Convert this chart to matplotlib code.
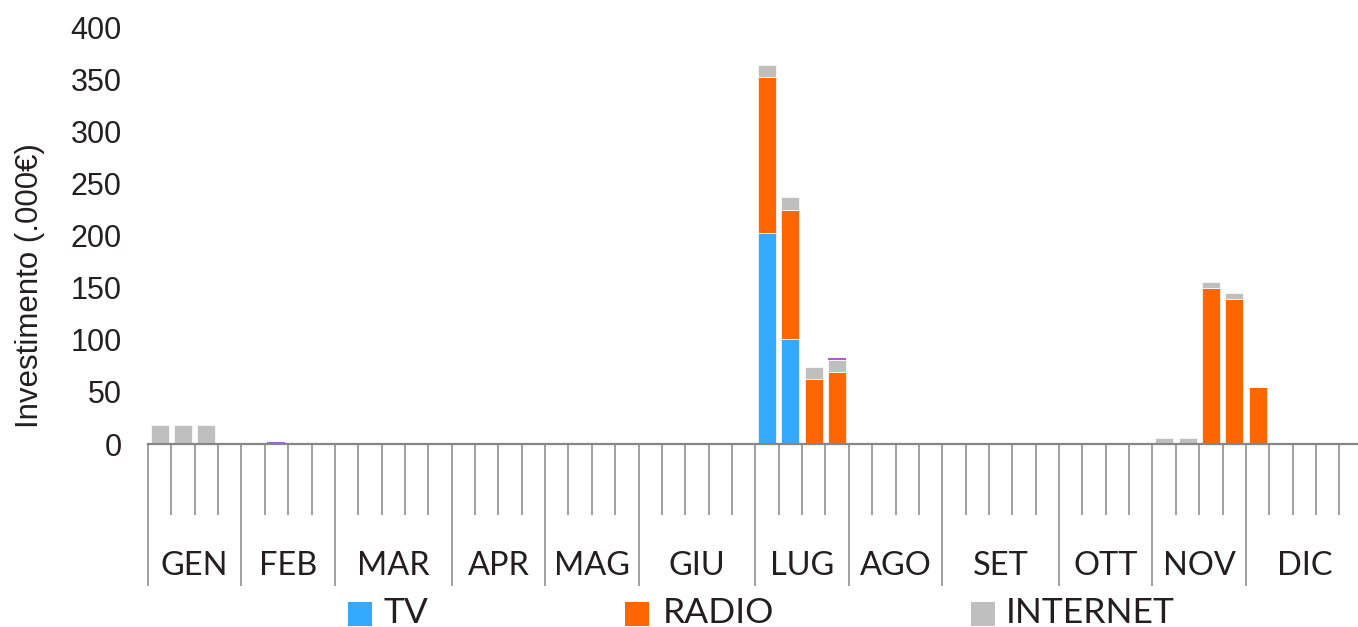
import matplotlib
matplotlib.use("Agg")
import matplotlib.pyplot as plt
import numpy as np
from matplotlib.patches import Rectangle
from matplotlib.transforms import blended_transform_factory

# Months and the number of weekly slots in each
months = ["GEN", "FEB", "MAR", "APR", "MAG", "GIU",
          "LUG", "AGO", "SET", "OTT", "NOV", "DIC"]
weeks_per_month = [4, 4, 5, 4, 4, 5, 4, 4, 5, 4, 4, 5]

# Weekly investment (.000 EUR), one row per month
tv = [
    [0, 0, 0, 0], [0, 0, 0, 0], [0, 0, 0, 0, 0], [0, 0, 0, 0],
    [0, 0, 0, 0], [0, 0, 0, 0, 0], [203, 101, 0, 0], [0, 0, 0, 0],
    [0, 0, 0, 0, 0], [0, 0, 0, 0], [0, 0, 0, 0], [0, 0, 0, 0, 0],
]
radio = [
    [0, 0, 0, 0], [0, 0, 0, 0], [0, 0, 0, 0, 0], [0, 0, 0, 0],
    [0, 0, 0, 0], [0, 0, 0, 0, 0], [149, 124, 62, 69], [0, 0, 0, 0],
    [0, 0, 0, 0, 0], [0, 0, 0, 0], [0, 0, 150, 139], [55, 0, 0, 0, 0],
]
internet = [
    [18, 18, 18, 0], [0, 0, 0, 0], [0, 0, 0, 0, 0], [0, 0, 0, 0],
    [0, 0, 0, 0], [0, 0, 0, 0, 0], [12, 12, 12, 12], [0, 0, 0, 0],
    [0, 0, 0, 0, 0], [0, 0, 0, 0], [6, 6, 6, 6], [0, 0, 0, 0, 0],
]
other = [
    [0, 0, 0, 0], [0, 1.5, 0, 0], [0, 0, 0, 0, 0], [0, 0, 0, 0],
    [0, 0, 0, 0], [0, 0, 0, 0, 0], [0, 0, 0, 1.5], [0, 0, 0, 0],
    [0, 0, 0, 0, 0], [0, 0, 0, 0], [0, 0, 0, 0], [0, 0, 0, 0, 0],
]
y_ticks = [0, 50, 100, 150, 200, 250, 300, 350, 400]

C_TV = "#33AAFF"
C_RADIO = "#FF6600"
C_INTERNET = "#BFBFBF"
C_OTHER = "#B455E0"
C_TEXT = "#231F20"
C_AXIS = "#868686"


def flat(rows):
    return np.array([v for r in rows for v in r], dtype=float)


tv_w, radio_w, net_w, oth_w = flat(tv), flat(radio), flat(internet), flat(other)
n_weeks = len(tv_w)
x = np.arange(n_weeks) + 0.5
bounds = np.concatenate([[0], np.cumsum(weeks_per_month)])

W, H = 1358, 627
fig = plt.figure(figsize=(W / 100, H / 100), dpi=100)
ax = fig.add_axes([148 / W, (H - 444) / H, n_weeks * 23.36 / W, 416.5 / H])

bw = 0.77
kw = dict(width=bw, edgecolor="white", linewidth=0.5)
ax.bar(x, tv_w, color=C_TV, **kw)
ax.bar(x, radio_w, bottom=tv_w, color=C_RADIO, **kw)
ax.bar(x, net_w, bottom=tv_w + radio_w, color=C_INTERNET, **kw)
ax.bar(x, oth_w, bottom=tv_w + radio_w + net_w, color=C_OTHER, width=bw, linewidth=0)

ax.set_xlim(0, n_weeks)
ax.set_ylim(0, 400)
ax.set_yticks(y_ticks)
ax.tick_params(axis="y", length=0, pad=19, labelsize=22, labelcolor=C_TEXT)
for lab in ax.get_yticklabels():
    lab.set_fontfamily("Liberation Sans")

for s in ("left", "right", "top"):
    ax.spines[s].set_visible(False)
ax.spines["bottom"].set_color(C_AXIS)
ax.spines["bottom"].set_linewidth(1.6)

# week ticks (short) and month separators (long)
ax.set_xticks(bounds)
ax.set_xticks([w for w in range(n_weeks + 1) if w not in bounds], minor=True)
ax.tick_params(axis="x", which="major", direction="out", length=102,
               width=1.1, color=C_AXIS, labelbottom=False)
ax.tick_params(axis="x", which="minor", direction="out", length=51,
               width=1.1, color=C_AXIS, labelbottom=False)

tr = blended_transform_factory(ax.transData, fig.transFigure)
for i, m in enumerate(months):
    cx = (bounds[i] + bounds[i + 1]) / 2
    ax.text(cx, (H - 575) / H, m, transform=tr, ha="center", va="baseline",
            fontsize=23.4, family="Lato", color=C_TEXT, clip_on=False)

fig.text(30 / W, (H - 286) / H, "Investimento (.000€)", rotation=90,
         ha="center", va="center", fontsize=22.5, family="Liberation Sans",
         color=C_TEXT)

# legend
legend_items = [("TV", C_TV, 348, 383), ("RADIO", C_RADIO, 625, 663),
                ("INTERNET", C_INTERNET, 971, 1006)]
for label, col, sx, tx in legend_items:
    fig.patches.append(Rectangle((sx / W, (H - 626) / H), 24 / W, 24 / H,
                                 transform=fig.transFigure, facecolor=col,
                                 edgecolor="none"))
    fig.text(tx / W, (H - 623) / H, label, ha="left", va="baseline",
             fontsize=25.5, family="Lato", color=C_TEXT)

fig.savefig("out.png", dpi=100)
